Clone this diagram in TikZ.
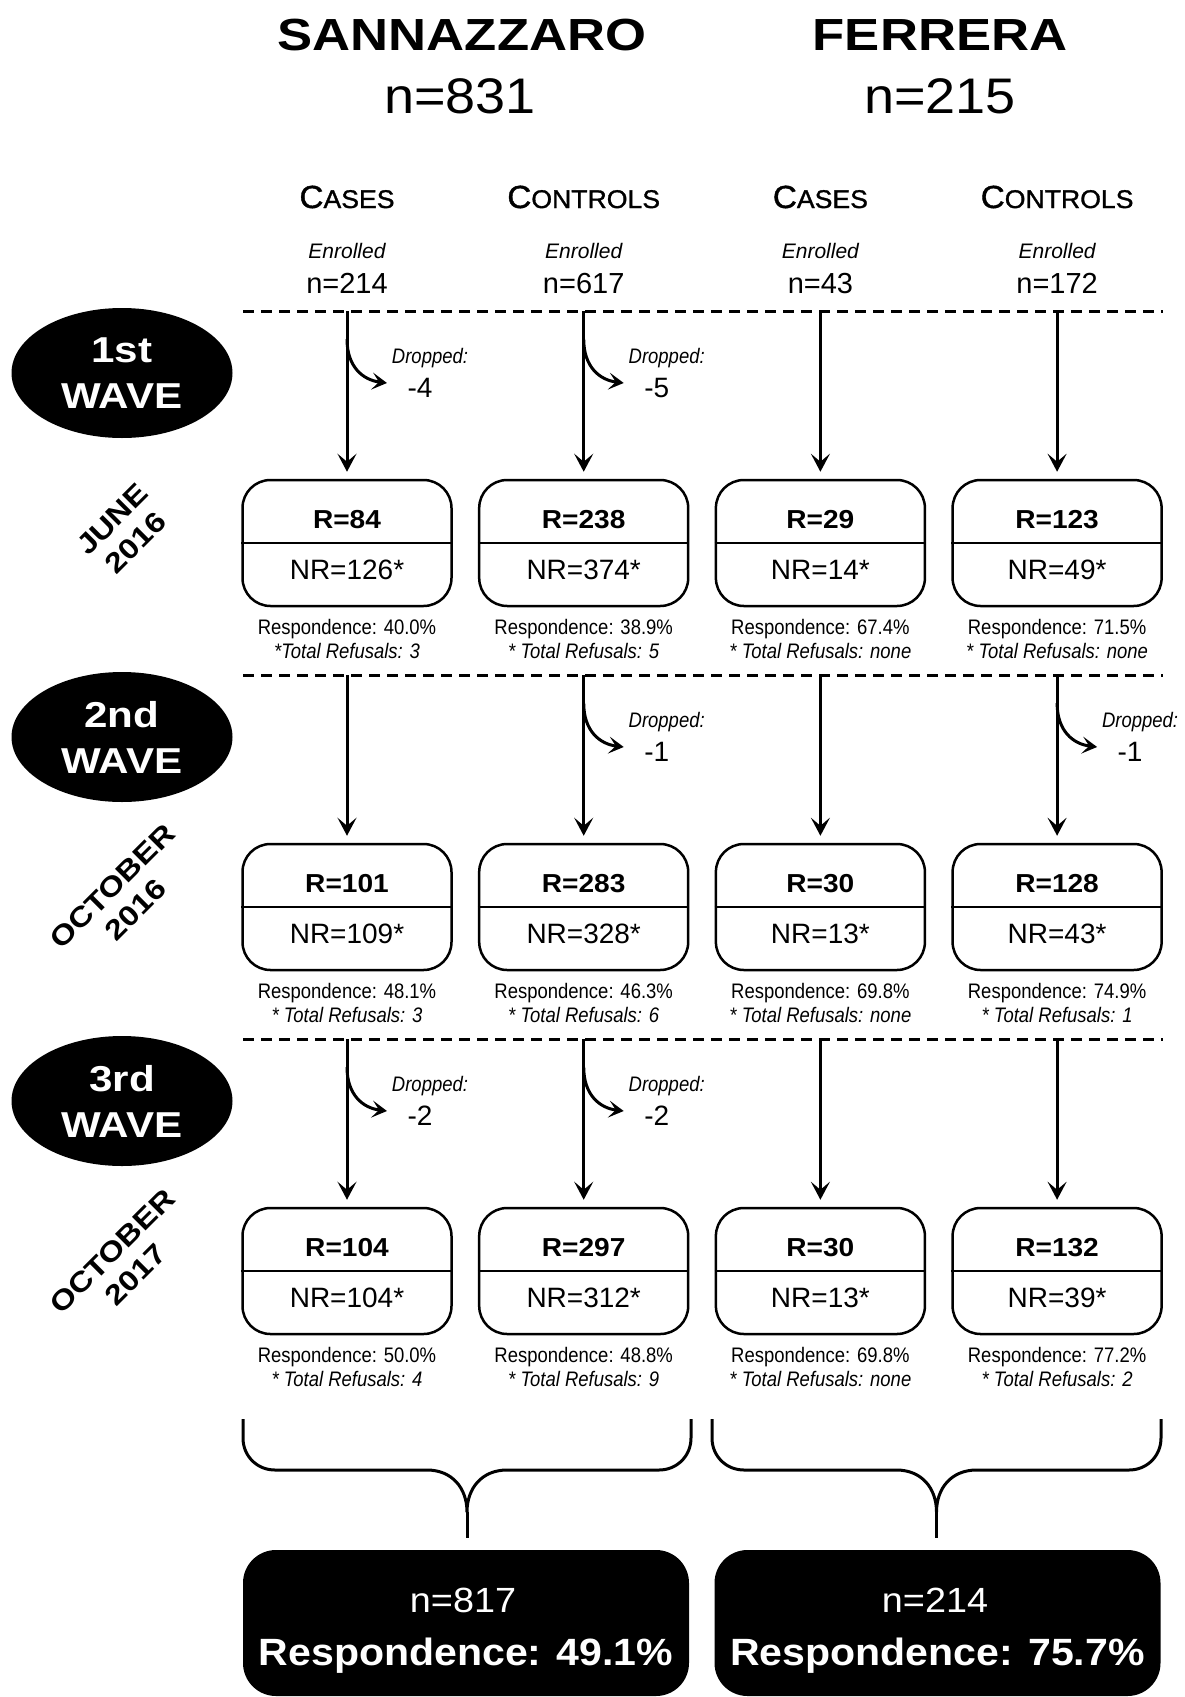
\documentclass[tikz,border=0pt]{standalone}
\usepackage{fontspec}
\setmainfont{Liberation Sans}
\newfontfamily\widef[FakeStretch=1.17]{Liberation Sans}
\newfontfamily\rfont[FakeStretch=1.08]{Liberation Sans}
\newfontfamily\headf[FakeStretch=1.04,FakeBold=1.2]{Liberation Sans}
\newfontfamily\narrowf[FakeStretch=0.88]{Liberation Sans}
\usetikzlibrary{arrows.meta,shapes.geometric}
\newcommand\fsz[2]{\fontsize{#1}{#2}\selectfont}
\begin{document}
\begin{tikzpicture}[x=1pt,y=-1pt,
  dashln/.style={line width=3pt, dash pattern=on 11pt off 7pt},
  arr/.style={line width=3pt, -{Stealth[length=18pt,width=19pt,inset=8pt]}, shorten >=7pt},
  darr/.style={line width=3pt, -{Stealth[length=15pt,width=17pt,inset=7pt]}},
  rbox/.style={draw, line width=2.5pt, rounded corners=28pt, minimum width=209pt, minimum height=126pt, inner sep=0pt},
  blackbox/.style={fill=black, rounded corners=33pt, minimum width=446pt, minimum height=146pt, inner sep=0pt},
  wave/.style={ellipse, fill=black, minimum width=221pt, minimum height=130pt, inner sep=0pt, text=white, align=center, font=\widef\bfseries\fsz{36}{46}},
  datelbl/.style={rotate=45, align=center, inner sep=0pt, font=\widef\bfseries\fsz{28}{33}},
  rtxt/.style={anchor=base, inner sep=0pt, font=\rfont\bfseries\fsz{26}{30}},
  nrtxt/.style={anchor=base, inner sep=0pt, font=\fsz{28}{32}},
  resp/.style={anchor=base, inner sep=0pt, font=\narrowf\fsz{21}{24}},
  refu/.style={anchor=base, inner sep=0pt, font=\narrowf\itshape\fsz{21}{24}},
  dropt/.style={anchor=base, inner sep=0pt, font=\narrowf\itshape\fsz{21}{24}},
  dropn/.style={anchor=base, inner sep=0pt, font=\fsz{28}{32}},
  enr/.style={anchor=base, inner sep=0pt, font=\itshape\fsz{21}{24}},
  enrn/.style={anchor=base, inner sep=0pt, font=\fsz{29}{32}},
  colhead/.style={anchor=base, inner sep=0pt, font=\headf\fsz{32}{36}},
  ttl/.style={anchor=base, inner sep=0pt, font=\widef\bfseries\fsz{45}{50}},
  ttln/.style={anchor=base, inner sep=0pt, font=\rfont\fsz{50}{56}},
  tot/.style={anchor=base, inner sep=0pt, text=white, font=\rfont\fsz{35}{40}},
  totr/.style={anchor=base, inner sep=0pt, text=white, font=\rfont\bfseries\fsz{38}{44}},
  bracel/.style={line width=3pt, line join=round}
]
\fill[white] (0,0) rectangle (1184,1697);
\useasboundingbox (0,0) rectangle (1184,1697);

% titles
\node[ttl, name=tS] at (462,50) {SANNAZZARO};
\node[ttln, name=tSn] at (460,113) {n=831};
\node[ttl, name=tF] at (940,50) {FERRERA};
\node[ttln, name=tFn] at (940,113) {n=215};

% column headers
\foreach \c/\h/\n in {1/C\fsz{25.6}{36}ASES/214, 2/C\fsz{25.6}{36}ONTROLS/617, 3/C\fsz{25.6}{36}ASES/43, 4/C\fsz{25.6}{36}ONTROLS/172}{
  \pgfmathsetmacro\cx{347+236.7*(\c-1)}
  \node[colhead, name=h\c] at (\cx,208) {\h};
  \node[enr, name=e\c] at (\cx,258) {Enrolled};
  \node[enrn, name=en\c] at (\cx,293) {n=\n};
}

% dashed lines, wave ellipses, date labels
\foreach \r/\o/\m/\yy/\yc in {1/1st/JUNE/2016/531, 2/2nd/OCTOBER/2016/898, 3/3rd/OCTOBER/2017/1263}{
  \pgfmathsetmacro\dy{311+364*(\r-1)}
  \coordinate (dla\r) at (243,\dy);
  \coordinate (dlb\r) at (1163,\dy);
  \draw[dashln] (dla\r) -- (dlb\r);
  \node[wave, name=wave\r] at (122,{373+364*(\r-1)}) {\o\\WAVE};
  \node[datelbl, name=date\r] at (124,\yc) {\m\\\yy};
}

% boxes
\foreach \r/\c/\R/\N/\P/\F in {
 1/1/84/126/40.0/{*Total Refusals: 3},
 1/2/238/374/38.9/{* Total Refusals: 5},
 1/3/29/14/67.4/{* Total Refusals: none},
 1/4/123/49/71.5/{* Total Refusals: none},
 2/1/101/109/48.1/{* Total Refusals: 3},
 2/2/283/328/46.3/{* Total Refusals: 6},
 2/3/30/13/69.8/{* Total Refusals: none},
 2/4/128/43/74.9/{* Total Refusals: 1},
 3/1/104/104/50.0/{* Total Refusals: 4},
 3/2/297/312/48.8/{* Total Refusals: 9},
 3/3/30/13/69.8/{* Total Refusals: none},
 3/4/132/39/77.2/{* Total Refusals: 2}}{
  \pgfmathsetmacro\cx{347+236.7*(\c-1)}
  \pgfmathsetmacro\bt{480+364*(\r-1)}
  \pgfmathsetmacro\dy{311+364*(\r-1)}
  \node[rbox, name=box\r\c] at (\cx,{\bt+63}) {};
  \draw[line width=2.5pt] (box\r\c.west) -- (box\r\c.east);
  \node[rtxt, name=r\r\c] at (\cx,{\bt+48}) {R=\R};
  \node[nrtxt, name=nr\r\c] at (\cx,{\bt+99}) {NR=\N*};
  \node[resp, name=rs\r\c] at (\cx,{\bt+154}) {Respondence: \P\%};
  \node[refu, name=rf\r\c] at (\cx,{\bt+178}) {\F};
  \coordinate (t\r\c) at (\cx,\dy);
  \draw[arr] (t\r\c) -- (box\r\c.north);
}

% dropped
\foreach \r/\c/\v in {1/1/-4,1/2/-5,2/2/-1,2/4/-1,3/1/-2,3/2/-2}{
  \pgfmathsetmacro\cx{347+236.7*(\c-1)}
  \pgfmathsetmacro\dy{311+364*(\r-1)}
  \coordinate (ds\r\c) at (\cx,{\dy+28});
  \coordinate (de\r\c) at ({\cx+40},{\dy+72});
  \draw[darr] (ds\r\c) .. controls +(0,28) and +(-24,-3) .. (de\r\c);
  \node[dropt, name=dl\r\c] at ({\cx+83},{\dy+52}) {Dropped:};
  \node[dropn, name=dn\r\c] at ({\cx+73},{\dy+86}) {\v};
}

% braces
\foreach \bl/\br/\bm in {243/691/467, 712/1161/936.5}{
  \draw[bracel] (\bl,1419) -- (\bl,1438) .. controls (\bl,1456) and ({\bl+14},1470) .. ({\bl+32},1470)
    -- ({\bm-40},1470) .. controls ({\bm-15},1470) and (\bm,1488) .. (\bm,1512)
    .. controls (\bm,1488) and ({\bm+15},1470) .. ({\bm+40},1470)
    -- ({\br-32},1470) .. controls ({\br-14},1470) and (\br,1456) .. (\br,1438) -- (\br,1419);
  \draw[bracel] (\bm,1512) -- (\bm,1538);
}

% totals
\node[blackbox, name=totS] at (466,1623) {};
\node[tot, name=totSn] at (463,1612) {n=817};
\node[totr, name=totSr] at (466,1665) {Respondence: 49.1\%};
\node[blackbox, name=totF] at (937.5,1623) {};
\node[tot, name=totFn] at (935,1612) {n=214};
\node[totr, name=totFr] at (937.5,1665) {Respondence: 75.7\%};
\end{tikzpicture}
\end{document}
